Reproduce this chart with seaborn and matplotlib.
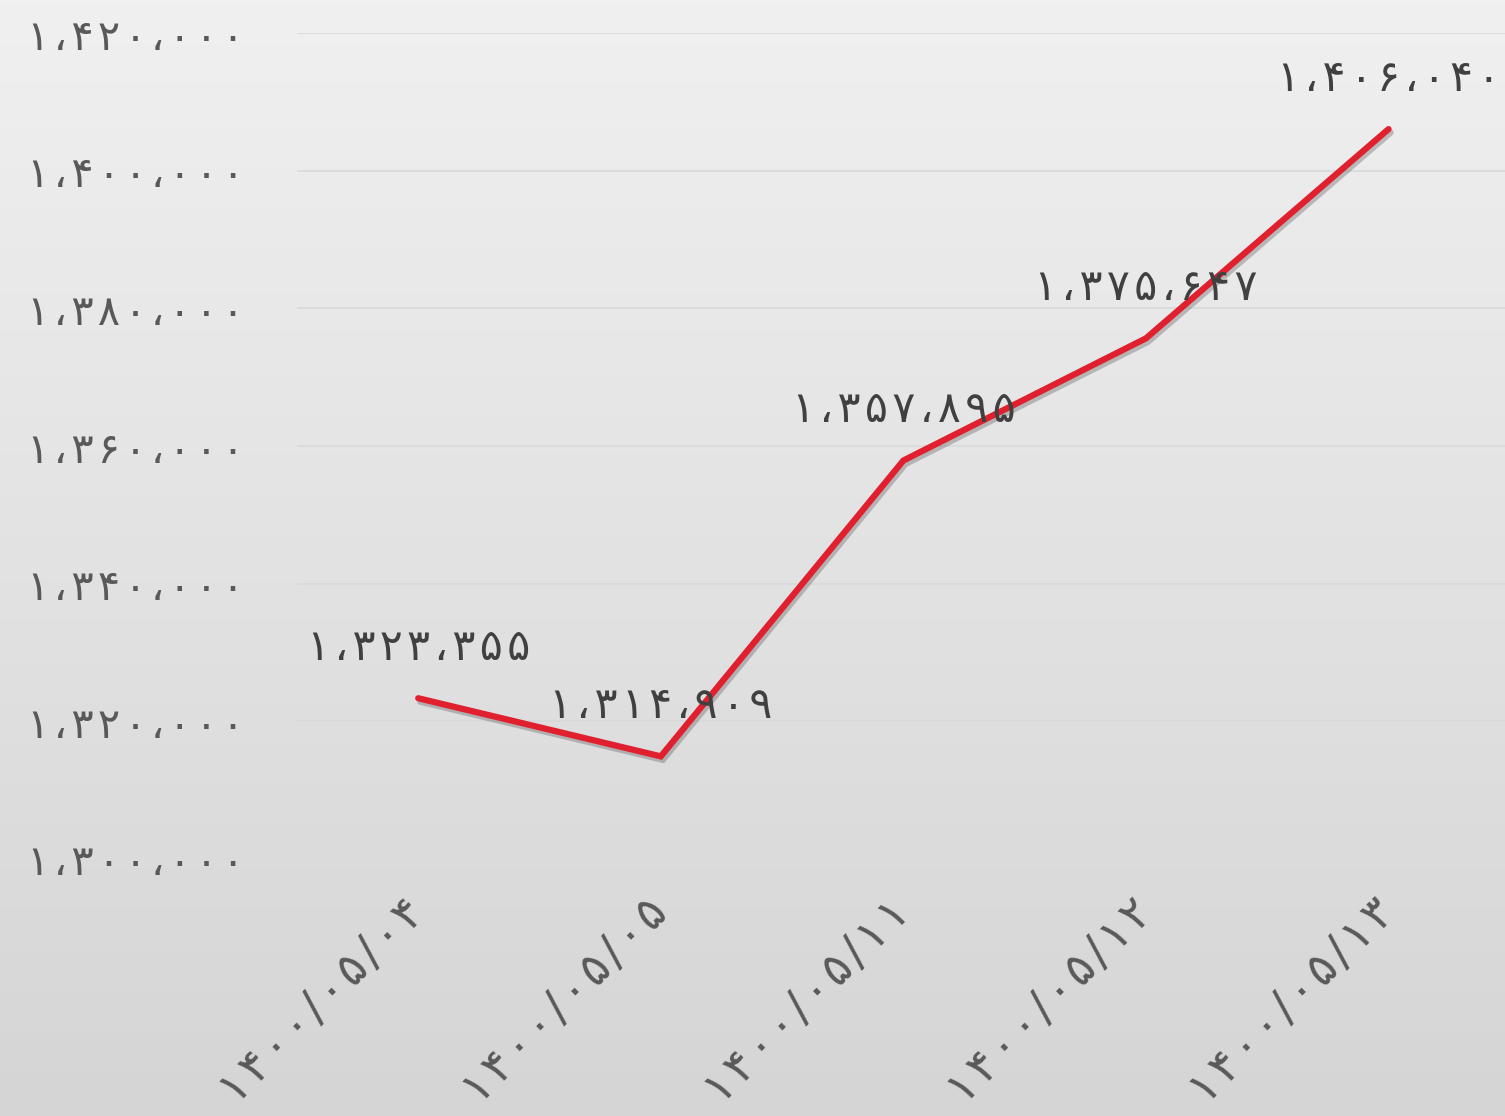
import numpy as np
import pandas as pd
import matplotlib
matplotlib.use('Agg')
import matplotlib.pyplot as plt
import matplotlib.patheffects as pe
import seaborn as sns

# ── Données ──────────────────────────────────────────────────────────────
dates = ['1400/05/04', '1400/05/05', '1400/05/11', '1400/05/12', '1400/05/13']
values = [1323355, 1314909, 1357895, 1375647, 1406040]
y_ticks = [1300000, 1320000, 1340000, 1360000, 1380000, 1400000, 1420000]

FA_DIGITS = str.maketrans('0123456789', '۰۱۲۳۴۵۶۷۸۹')
HAIR = '\u200a'


def spaced(s):
    return HAIR.join(s)


def fa_num(v):
    return spaced(f'{v:,}'.replace(',', '،').translate(FA_DIGITS))


def fa_text(s):
    return spaced(s.translate(FA_DIGITS))


df = pd.DataFrame({'date': [fa_text(d) for d in dates], 'value': values, 'pos': range(len(dates))})

sns.set_theme(style='white')
plt.rcParams['font.family'] = ['DejaVu Sans']

fig = plt.figure(figsize=(15.05, 11.16), dpi=100)

# fond dégradé
bg = fig.add_axes([0, 0, 1, 1], zorder=-10)
grad = np.linspace(0, 1, 256).reshape(-1, 1)
bg.imshow(grad, aspect='auto', cmap=matplotlib.colors.LinearSegmentedColormap.from_list(
    'bg', ['#f0f0f0', '#d5d5d5']), extent=[0, 1, 0, 1])
bg.axis('off')

ax = fig.add_axes([0.1973, 0.2303, 0.8027, 0.7401])
ax.patch.set_alpha(0)

for t in y_ticks[1:]:
    ax.axhline(t, color='#d9d9d9', linewidth=1.2, zorder=0)

sns.lineplot(data=df, x='pos', y='value', ax=ax, color='#e0202e', linewidth=4.5,
             solid_capstyle='round', solid_joinstyle='miter',
             path_effects=[pe.SimpleLineShadow(offset=(1.5, -2.5), alpha=0.3, shadow_color='#444444'),
                           pe.Normal()])

for _, r in df.iterrows():
    ax.annotate(fa_num(r['value']), (r['pos'], r['value']), xytext=(0, 36),
                textcoords='offset points', ha='center', va='center',
                fontsize=31, color='#404040', clip_on=False)

ax.set_xlim(-0.5, 4.48)
ax.set_ylim(y_ticks[0], y_ticks[-1])
ax.set_yticks(y_ticks)
ax.set_yticklabels([fa_num(t) for t in y_ticks], fontsize=30, color='#595959')
ax.set_xticks(df['pos'])
ax.set_xticklabels(df['date'], fontsize=33, color='#595959', rotation=45,
                   ha='right', va='center', rotation_mode='anchor')
ax.tick_params(axis='y', length=0, pad=38)
ax.tick_params(axis='x', length=0, pad=34)
ax.set_xlabel('')
ax.set_ylabel('')
sns.despine(ax=ax, left=True, bottom=True)

plt.savefig('out.png', dpi=100)
plt.close()
